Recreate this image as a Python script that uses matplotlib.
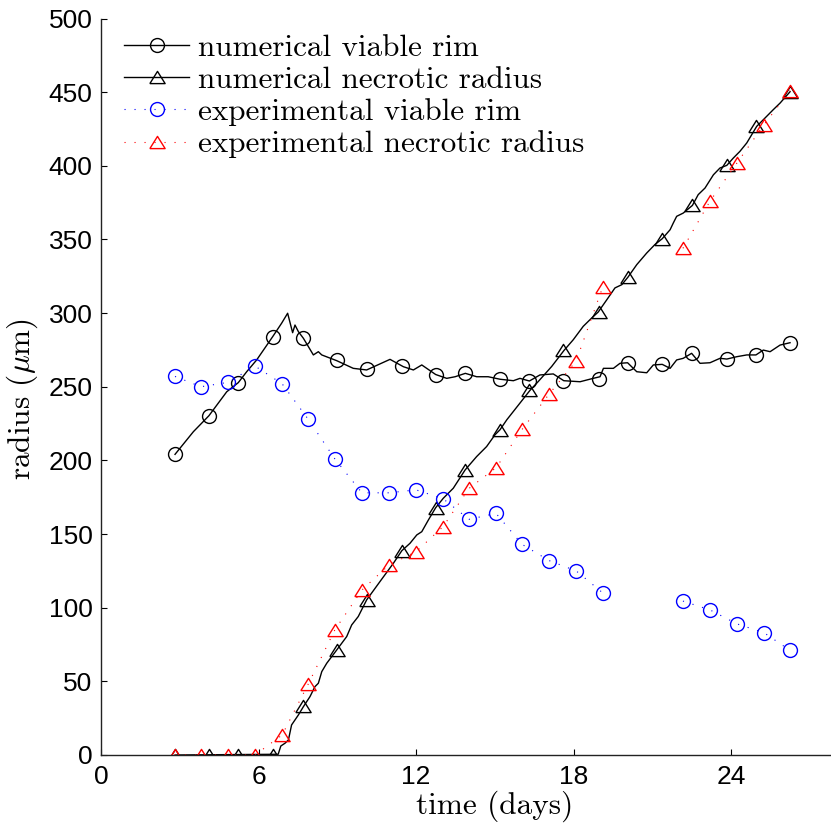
import matplotlib
matplotlib.use("Agg")
import matplotlib.pyplot as plt
from matplotlib.lines import Line2D

nan = float('nan')

# ---------------- data ----------------
# experimental measurements (days, micrometres); no measurement on two days
exp_t = [2.82, 3.81, 4.84, 5.87, 6.90, 7.89, 8.91, 9.94, 10.97, 12.00, 13.03,
         14.02, 15.05, 16.04, 17.07, 18.10, 19.12, 20.14, 21.15, 22.17, 23.20, 24.23, 25.26, 26.25]
exp_viable = [257, 250, 253, 264, 252, 228, 201, 178, 178, 180, 174,
              160, 164, 143, 132, 125, 110, nan, nan, 104.5, 98.5, 89, 83, 71]
exp_necrotic = [0, 0, 0, 0, 13.6, 48, 85, 112, 129, 138, 155,
                181, 195, 221, 245, 267.5, 318, nan, nan, 344, 376, 402, 428, 451]

# numerical simulation curves
num_viable_t = [2.82, 3.52, 4.11, 4.79, 5.23, 5.55, 5.93, 6.54, 6.88, 7.11, 7.30, 7.39,
                7.52, 7.71, 8.09, 8.28, 8.41, 8.98, 9.61, 10.12, 11.01, 11.52, 11.90,
                12.22, 12.75, 13.17, 13.49, 13.88, 14.31, 14.75, 15.20, 15.71, 15.96,
                16.32, 16.72, 17.23, 17.63, 18.25, 18.75, 19.01, 19.14, 19.52, 19.77,
                20.06, 20.41, 20.79, 21.04, 21.38, 21.68, 21.93, 22.18, 22.50, 22.82,
                23.20, 23.58, 23.84, 24.22, 24.60, 24.95, 25.23, 25.49, 25.87, 26.25]
num_viable_r = [204.1, 219.5, 230.3, 246.6, 252.8, 260.2, 268.2, 284.0, 293.1, 299.9, 286.7, 291.9,
                287.4, 282.9, 271.6, 273.8, 271.6, 267.7, 262.5, 261.4, 268.6, 263.6, 261.4,
                264.8, 258.3, 255.7, 256.8, 259.1, 256.8, 256.8, 255.1, 254.1, 255.7,
                253.9, 258.0, 258.7, 254.1, 253.4, 255.7, 256.8, 262.5, 262.5, 265.9,
                266.3, 260.2, 259.5, 264.8, 265.2, 262.5, 268.2, 269.3, 272.7, 265.9,
                266.3, 269.3, 268.8, 270.4, 271.6, 271.6, 274.9, 273.8, 278.3, 279.9]

num_necrotic_t = [2.82, 6.75, 6.85, 7.01, 7.14, 7.26, 7.39, 7.52, 7.71, 7.96, 8.15, 8.28,
                  8.41, 8.60, 8.98, 9.36, 9.55, 9.80, 10.12, 10.63, 11.14, 11.46, 11.77,
                  12.03, 12.22, 12.47, 12.75, 13.04, 13.42, 13.87, 14.31, 14.69, 15.01,
                  15.20, 15.46, 15.96, 16.34, 16.66, 17.17, 17.64, 17.99, 18.37, 18.69,
                  18.94, 19.27, 19.58, 19.84, 20.07, 20.41, 20.79, 21.10, 21.38, 21.68,
                  21.80, 21.93, 22.18, 22.53, 22.75, 23.01, 23.33, 23.58, 23.84, 24.09,
                  24.34, 24.60, 24.98, 25.36, 25.61, 25.87, 26.25]
num_necrotic_r = [0, 0.5, 6.1, 8.0, 10.2, 20.4, 23.8, 27.2, 32.8, 39.6, 46.4, 48.7,
                  56.6, 62.3, 71.3, 80.4, 88.3, 94.0, 105.3, 117.8, 130.2, 138.7, 143.7,
                  149.4, 151.6, 159.5, 167.9, 174.3, 181.1, 193.5, 202.6, 209.4, 217.4,
                  220.8, 227.6, 238.9, 247.5, 253.6, 263.8, 274.7, 281.9, 291.0, 296.6,
                  300.7, 309.1, 317.1, 319.3, 324.3, 332.9, 340.8, 346.5, 350.5, 356.6,
                  361.1, 365.7, 367.9, 373.1, 380.4, 384.9, 393.9, 398.5, 400.3, 405.3,
                  409.8, 415.5, 426.8, 433.6, 438.1, 442.6, 450.3]

# marker positions on the numerical curves
num_mark_t = [2.82, 4.11, 5.23, 6.54, 7.70, 8.99, 10.13, 11.47, 12.76, 13.87,
              15.20, 16.30, 17.60, 18.97, 20.08, 21.37, 22.51, 23.85, 24.95, 26.25]
num_mark_viable = [204.1, 230.3, 252.8, 284.0, 283.1, 268.2, 262.0, 264.1, 258.3, 259.1,
                   255.1, 253.9, 254.1, 255.3, 266.3, 265.2, 272.9, 268.8, 271.6, 279.9]
num_mark_necrotic = [0, 0, 0, 0, 33, 71.3, 105.3, 138.7, 167.9, 193.5,
                     220.8, 247.5, 274.7, 300.7, 324.3, 350.5, 373.1, 400.3, 426.8, 450.3]

labels = ["numerical viable rim", "numerical necrotic radius",
          "experimental viable rim", "experimental necrotic radius"]
xticks = [0, 6, 12, 18, 24]
yticks = list(range(0, 501, 50))

# ---------------- plot ----------------
plt.rcParams['mathtext.fontset'] = 'cm'
fig = plt.figure(figsize=(8.31, 8.25), dpi=100)
ax = fig.add_axes([101 / 831, 70 / 825, 787.5 / 831, 736.5 / 825])

tri = [(-1, -0.8), (1, -0.8), (0, 0.8), (-1, -0.8)]
ms_c = 10
ms_t = 11
dotted = (0, (1, 8))

ax.plot(num_viable_t, num_viable_r, color='black', lw=1.0)
ax.plot(num_mark_t, num_mark_viable, ls='none', marker='o', ms=ms_c,
        mfc='none', mec='black', mew=1.0)
ax.plot(num_necrotic_t, num_necrotic_r, color='black', lw=1.0)
ax.plot(num_mark_t, num_mark_necrotic, ls='none', marker=tri, ms=ms_t,
        mfc='none', mec='black', mew=1.0)
ax.plot(exp_t, exp_viable, color='#0000ff', ls=dotted, lw=0.8, marker='o', ms=ms_c,
        mfc='none', mec='#0000ff', mew=1.0)
ax.plot(exp_t, exp_necrotic, color='#ff0000', ls=dotted, lw=0.8, marker=tri, ms=ms_t,
        mfc='none', mec='#ff0000', mew=1.0)

handles = [
    Line2D([], [], color='black', lw=1.0, marker='o', ms=ms_c, mfc='none', mec='black'),
    Line2D([], [], color='black', lw=1.0, marker=tri, ms=ms_t, mfc='none', mec='black'),
    Line2D([], [], color='#0000ff', ls=dotted, lw=0.8, marker='o', ms=ms_c, mfc='none', mec='#0000ff'),
    Line2D([], [], color='#ff0000', ls=dotted, lw=0.8, marker=tri, ms=ms_t, mfc='none', mec='#ff0000'),
]
leg = ax.legend(handles, labels, loc='upper left', bbox_to_anchor=(0.029, 0.979),
                frameon=False, prop={'family': 'cmr10', 'size': 22.4},
                handlelength=2.1, handletextpad=0.29, labelspacing=0.14,
                borderaxespad=0.0, borderpad=0.0)

ax.set_xlim(0, 30)
ax.set_ylim(0, 500)
ax.set_xticks(xticks)
ax.set_yticks(yticks)
ax.spines['top'].set_visible(False)
ax.spines['right'].set_visible(False)
for s in ('left', 'bottom'):
    ax.spines[s].set_linewidth(1.0)
    ax.spines[s].set_color('#222222')
ax.tick_params(direction='in', length=4, width=0.8, labelsize=19)
ax.tick_params(axis='x', pad=7.5)
ax.tick_params(axis='y', pad=6)
for lab in ax.get_xticklabels() + ax.get_yticklabels():
    lab.set_family('Liberation Sans')

ax.set_xlabel('time (days)', fontfamily='cmr10', fontsize=22.5, labelpad=1)
ax.set_ylabel(r'radius ($\mu$m)', fontfamily='cmr10', fontsize=22.5)
ax.yaxis.set_label_coords(-0.078, 0.483)

fig.savefig('out.png', dpi=100)
